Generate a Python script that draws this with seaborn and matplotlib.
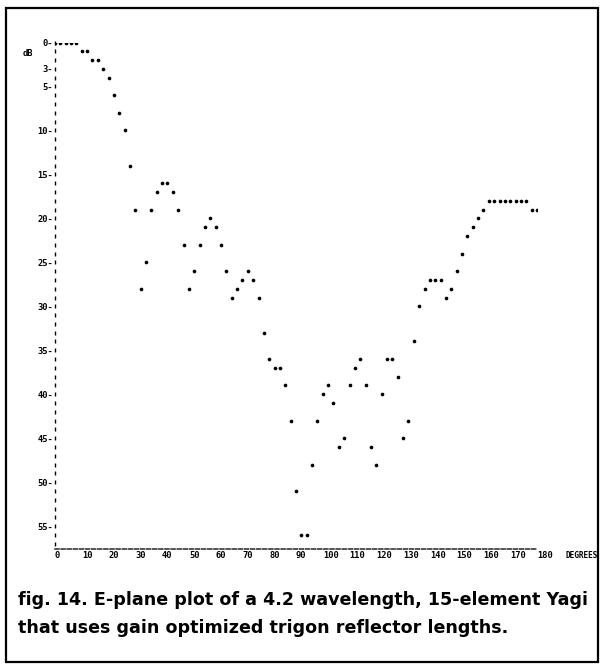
import matplotlib
matplotlib.use("Agg")
import matplotlib.pyplot as plt
import seaborn as sns
import pandas as pd
from matplotlib.patches import Rectangle

# E-plane pattern, relative response in dB below peak, one reading every 2 degrees
angles_deg = list(range(0, 182, 2))
level_db = [
    0, 0, 0, 0, 0, 1, 1, 2, 2, 3,
    4, 6, 8, 10, 14, 19, 28, 25, 19, 17,
    16, 16, 17, 19, 23, 28, 26, 23, 21, 20,
    21, 23, 26, 29, 28, 27, 26, 27, 29, 33,
    36, 37, 37, 39, 43, 51, 56, 56, 48, 43,
    40, 39, 41, 46, 45, 39, 37, 36, 39, 46,
    48, 40, 36, 36, 38, 45, 43, 34, 30, 28,
    27, 27, 27, 29, 28, 26, 24, 22, 21, 20,
    19, 18, 18, 18, 18, 18, 18, 18, 18, 19,
    19,
]
y_ticks = [0, 3, 5, 10, 15, 20, 25, 30, 35, 40, 45, 50, 55]
y_minor = list(range(0, 58))
x_ticks = list(range(0, 190, 10))
caption_lines = [
    "fig. 14. E-plane plot of a 4.2 wavelength, 15-element Yagi",
    "that uses gain optimized trigon reflector lengths.",
]

df = pd.DataFrame({"angle": angles_deg, "level": level_db})

sns.set_theme(style="white")
plt.rcParams["font.family"] = ["DejaVu Sans Mono", "DejaVu Sans"]
plt.rcParams["text.color"] = "black"

W, H = 604, 668
fig = plt.figure(figsize=(W / 100, H / 100), dpi=100)
fig.patch.set_facecolor("white")

# outer frame round the printout and caption
fig.add_artist(Rectangle((6 / W, 6 / H), (W - 12) / W, (H - 14) / H,
                         transform=fig.transFigure, fill=False,
                         edgecolor="black", linewidth=1.6))

left, right = 55 / W, 537 / W
top, bottom = 1 - 42.5 / H, 1 - 549 / H
ax = fig.add_axes([left, bottom, right - left, top - bottom])

sns.scatterplot(data=df, x="angle", y="level", ax=ax, color="black",
                marker="o", s=7, linewidth=0, legend=False)

ax.set_xlim(0, 180)
ax.set_ylim(57.6, 0)
ax.set_xlabel("")
ax.set_ylabel("")

for side in ("top", "right", "left"):
    ax.spines[side].set_visible(False)
ax.spines["bottom"].set_linestyle((0, (2.6, 1.4)))
ax.spines["bottom"].set_linewidth(1.1)

# printer-style tick column: one short upright stroke per dB
ax.plot([0] * len(y_minor), y_minor, linestyle="none", marker="|",
        markersize=3.5, markeredgewidth=1.0, color="black", clip_on=False)

ax.set_yticks(y_ticks)
ax.set_yticklabels([f"{v}-" for v in y_ticks])
ax.set_xticks(x_ticks)
ax.set_xticklabels([str(v) for v in x_ticks])
ax.tick_params(axis="both", length=0, labelsize=6.3, colors="black")
ax.tick_params(axis="y", pad=1.5)
ax.tick_params(axis="x", pad=1.5)
for lab in ax.get_yticklabels() + ax.get_xticklabels():
    lab.set_fontweight("bold")
for lab in ax.get_xticklabels():
    lab.set_horizontalalignment("left")

ax.text(-0.045, 1 - 1.2 / 57.6, "dB", transform=ax.transAxes, fontsize=6.3,
        fontweight="bold", ha="right", va="center", color="black")
fig.text(566 / W, 1 - 555 / H, "DEGREES", fontsize=5.6, fontweight="bold",
         ha="left", va="center", color="black")

for i, line in enumerate(caption_lines):
    fig.text(18 / W, 1 - (600 + 28 * i) / H, line, ha="left", va="center",
             fontsize=12.6, fontweight="bold", color="black",
             family=["DejaVu Sans", "Liberation Sans"])

fig.savefig("out.png", dpi=100, facecolor="white")
